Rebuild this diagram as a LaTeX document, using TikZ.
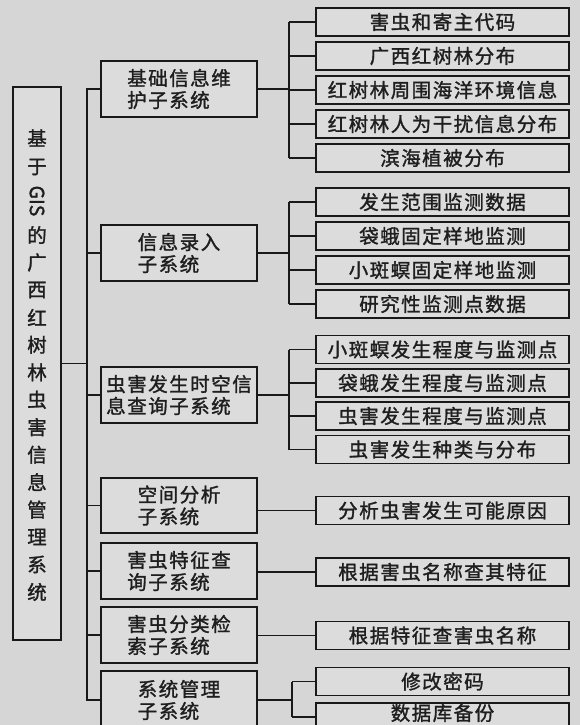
\documentclass[tikz,border=0pt]{standalone}
\usepackage{fontspec}
\newfontfamily\cjk[LetterSpace=7.7,FakeBold=1.4]{Noto Sans CJK SC}
\newfontfamily\cjkv[FakeBold=1.4]{Noto Sans CJK SC}
\definecolor{bgcol}{RGB}{214,214,214}
\definecolor{boxcol}{RGB}{220,220,220}
\definecolor{linecol}{RGB}{25,25,25}
\definecolor{txtcol}{RGB}{30,30,30}
\tikzset{
  box/.style={draw=linecol, line width=1.5pt, fill=boxcol, inner sep=0pt, text=txtcol,
              font={\cjk\fontsize{19.5}{22}\selectfont}},
  midbox/.style={box, minimum width=156pt, minimum height=56pt, align=left},
  leafbox/.style={box, minimum width=253pt, minimum height=28pt},
  rootbox/.style={box, minimum width=48pt, minimum height=553pt},
  lch/.style={inner sep=0pt, text=txtcol, font={\cjkv\fontsize{19.5}{22}\selectfont}},
  ltxt/.style={inner sep=0pt, text=txtcol, font={\cjk\fontsize{19.5}{22}\selectfont}},
  conn/.style={line width=1.5pt, draw=linecol}
}
\begin{document}
\begin{tikzpicture}[x=1pt,y=-1pt]
\useasboundingbox (0,0) rectangle (580,725);
\fill[bgcol] (0,0) rectangle (580,725);
\clip (0,0) rectangle (580,725);

% root
\node[rootbox] (root) at (37,363.5) {};
\node[lch] (lgis) at (37,201) {\rotatebox{-90}{GIS}};
\foreach \c/\yy [count=\i] in {基/138,于/167,的/235,广/262.5,西/290,红/317.4,树/344.8,林/372.3,虫/399.8,害/427.2,信/454.7,息/482.1,管/509.6,理/537,系/564.5,统/592}
  \node[lch] (l\i) at (37,\yy) {\c};

% middle boxes
\node[midbox] (m1) at (179,89) {基础信息维\\护子系统};
\node[midbox] (m2) at (179,253) {信息录入\\子系统};
\node[midbox] (m3) at (179,395) {虫害发生时空信\\息查询子系统};
\node[midbox, minimum height=55pt] (m4) at (179,505.5) {空间分析\\子系统};
\node[midbox] (m5) at (179,571) {害虫特征查\\询子系统};
\node[midbox] (m6) at (179,635) {害虫分类检\\索子系统};
\node[midbox, minimum height=58pt] (m7) at (179,700) {系统管理\\子系统};

% leaves
\node[leafbox] (a1) at (442.5,22) {害虫和寄主代码};
\node[leafbox] (a2) at (442.5,56) {广西红树林分布};
\node[leafbox] (a3) at (442.5,90) {红树林周围海洋环境信息};
\node[leafbox] (a4) at (442.5,124) {红树林人为干扰信息分布};
\node[leafbox] (a5) at (442.5,158) {滨海植被分布};

\node[leafbox] (b1) at (442.5,202) {发生范围监测数据};
\node[leafbox] (b2) at (442.5,236) {袋蛾固定样地监测};
\node[leafbox] (b3) at (442.5,270) {小斑螟固定样地监测};
\node[leafbox] (b4) at (442.5,304) {研究性监测点数据};

\node[leafbox] (c1) at (442.5,349.5) {小斑螟发生程度与监测点};
\node[leafbox] (c2) at (442.5,383) {袋蛾发生程度与监测点};
\node[leafbox] (c3) at (442.5,416) {虫害发生程度与监测点};
\node[leafbox] (c4) at (442.5,449.5) {虫害发生种类与分布};

\node[leafbox] (d1) at (442.5,510.5) {分析虫害发生可能原因};
\node[leafbox] (e1) at (442.5,572) {根据害虫名称查其特征};
\node[leafbox] (f1) at (442.5,635.5) {根据特征查害虫名称};

\node[leafbox] (g1) at (442.5,681.5) {修改密码};
\node[leafbox] (g2) at (442.5,717) {};
\node[ltxt] (g2t) at (442.5,713) {数据库备份};

% trunk
\coordinate (tk) at (87,0);
\coordinate (bk) at (289,0);
\coordinate (bk7) at (292,0);
\draw[conn] (m1.west) -- (m1.west -| tk) -- (m7.west -| tk) -- (m7.west);
\foreach \m in {m2,m3,m4,m5,m6}
  \draw[conn] (\m.west) -- (\m.west -| tk);
\draw[conn] (root.east) -- (root.east -| tk);

% group a
\draw[conn] (m1.east) -- (m1.east -| bk);
\draw[conn] (a1.west -| bk) -- (a5.west -| bk);
\foreach \n in {a1,a2,a3,a4,a5} \draw[conn] (\n.west) -- (\n.west -| bk);
% group b
\draw[conn] (m2.east) -- (m2.east -| bk);
\draw[conn] (b1.west -| bk) -- (b4.west -| bk);
\foreach \n in {b1,b2,b3,b4} \draw[conn] (\n.west) -- (\n.west -| bk);
% group c
\draw[conn] (m3.east) -- (m3.east -| bk);
\draw[conn] (c1.west -| bk) -- (c4.west -| bk);
\foreach \n in {c1,c2,c3,c4} \draw[conn] (\n.west) -- (\n.west -| bk);
% singles
\draw[conn] (d1.west) -- (d1.west -| m4.east);
\draw[conn] (e1.west) -- (e1.west -| m5.east);
\draw[conn] (f1.west) -- (f1.west -| m6.east);
% group g
\draw[conn] (m7.east) -- (m7.east -| bk7);
\draw[conn] (g1.west -| bk7) -- (g2.west -| bk7);
\foreach \n in {g1,g2} \draw[conn] (\n.west) -- (\n.west -| bk7);
\end{tikzpicture}
\end{document}
